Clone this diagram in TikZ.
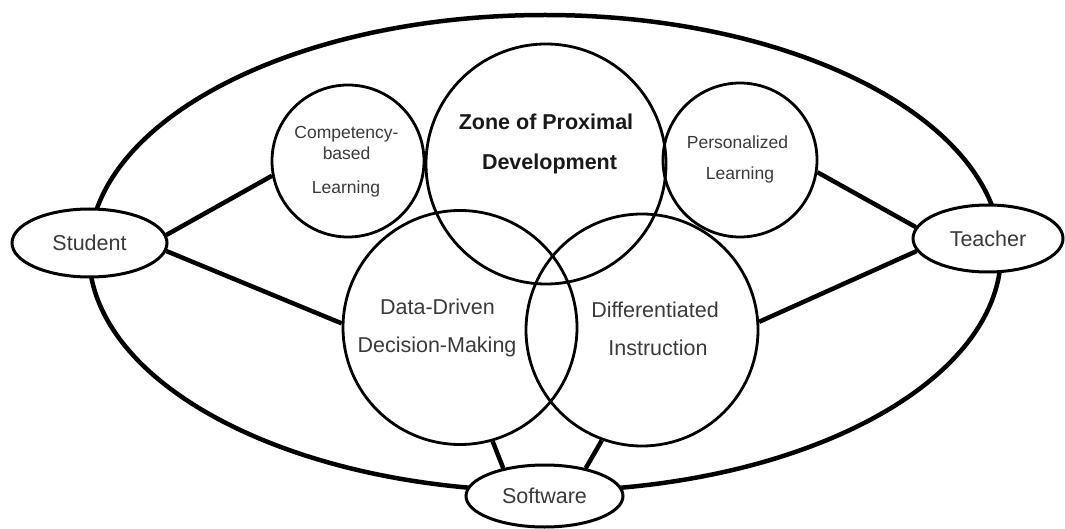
\documentclass[tikz,border=0pt]{standalone}
\usepackage{fontspec}
\setmainfont{Liberation Sans}
\usetikzlibrary{shapes.geometric}
\definecolor{txt}{HTML}{3A3A3A}
\begin{document}
\begin{tikzpicture}[x=1pt,y=-1pt,
  outer/.style={ellipse, draw, line width=4.5pt, inner sep=0pt, minimum width=912pt, minimum height=476pt},
  actor/.style={ellipse, draw, fill=white, line width=3pt, inner sep=0pt, font=\fontsize{21.5}{24}\selectfont, text=txt},
  concept/.style={circle, draw, line width=2.8pt, inner sep=0pt},
  link/.style={line width=4.5pt},
  big/.style={font=\fontsize{21.5}{24}\selectfont, text=txt, inner sep=0pt, anchor=base},
  small/.style={font=\fontsize{17.5}{20}\selectfont, text=txt, inner sep=0pt, anchor=base},
  heavy/.style={font=\bfseries\fontsize{21.5}{24}\selectfont, text=black!90, inner sep=0pt, anchor=base}]
\useasboundingbox (0,0) rectangle (1065,529);
% outer ellipse
\node[outer] (outer) at (545,253) {};
% actors
\node[actor, minimum width=155pt, minimum height=68pt] (student) at (89.5,243) {Student};
\node[actor, minimum width=150pt, minimum height=67pt] (teacher) at (988,238.5) {Teacher};
\node[actor, minimum width=157pt, minimum height=62pt] (software) at (544.5,496) {Software};
% concept circles
\node[concept, minimum size=152pt] (comp) at (348,161) {};
\node[concept, minimum size=240pt] (zpd) at (546,164) {};
\node[concept, minimum size=154pt] (pers) at (740,160) {};
\node[concept, minimum size=234pt] (ddd) at (460,327.5) {};
\node[concept, minimum size=232pt] (di) at (642,330) {};
% labels
\node[heavy] (zpd1) at (546,129.7) {Zone of Proximal};
\node[heavy] (zpd2) at (549.5,169.7) {Development};
\node[small] (comp1) at (346.5,138.3) {Competency-};
\node[small] (comp2) at (346.6,159.3) {based};
\node[small] (comp3) at (346,193.3) {Learning};
\node[small] (pers1) at (737.5,148.3) {Personalized};
\node[small] (pers2) at (740,179.3) {Learning};
\node[big] (ddd1) at (437.5,314.7) {Data-Driven};
\node[big] (ddd2) at (437,352.7) {Decision-Making};
\node[big] (di1) at (655,317.7) {Differentiated};
\node[big] (di2) at (658,355.7) {Instruction};
% connectors
\draw[link] (student.6) -- (comp.191);
\draw[link] (student.-6) -- (ddd.178);
\draw[link] (teacher.171) -- (pers.-9);
\draw[link] (teacher.190) -- (di.4);
\draw[link] (software.146) -- (ddd.-74);
\draw[link] (software.34) -- (di.250);
\end{tikzpicture}
\end{document}
